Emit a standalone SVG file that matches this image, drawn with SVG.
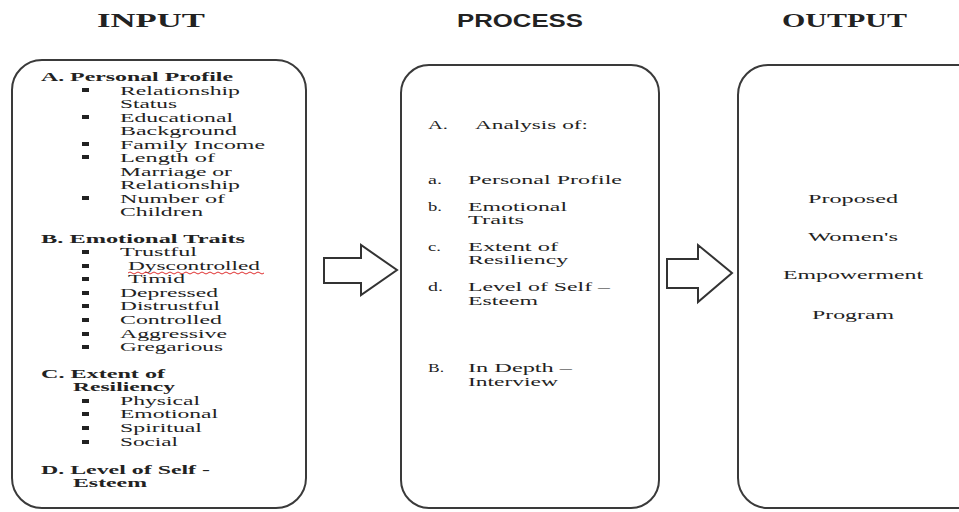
<svg xmlns="http://www.w3.org/2000/svg" width="959" height="512" viewBox="0 0 959 512">
<style>
.box{fill:#fff;stroke:#3a3a3a;stroke-width:2}
.arrow{fill:#fff;stroke:#333;stroke-width:2;stroke-linejoin:miter}
.t{font-family:"Liberation Serif","Times New Roman",serif;font-size:12.5px;fill:#222}
.b{font-weight:bold}
.title{font-family:"Liberation Serif","Times New Roman",serif;font-size:19px;font-weight:bold;fill:#222}
.titles{font-family:"Liberation Sans",Arial,sans-serif;font-size:18px;font-weight:bold;fill:#222}
.bul{fill:#222}
</style>
<rect width="959" height="512" fill="#fff"/>
<g id="titles">
<text class="title" x="97" y="27" textLength="108" lengthAdjust="spacingAndGlyphs">INPUT</text>
<text class="titles" x="457" y="27" textLength="126" lengthAdjust="spacingAndGlyphs">PROCESS</text>
<text class="title" x="782" y="27" textLength="125" lengthAdjust="spacingAndGlyphs">OUTPUT</text>
</g>
<g id="input">
<rect class="box" x="12" y="60" width="294" height="448" rx="30" ry="30"/>
<text class="t b" x="41" y="81" textLength="192" lengthAdjust="spacingAndGlyphs">A. Personal Profile</text>
<g class="bul">
<rect x="82" y="88" width="7" height="4"/>
<rect x="82" y="115" width="7" height="4"/>
<rect x="82" y="142" width="7" height="4"/>
<rect x="82" y="155" width="7" height="4"/>
<rect x="82" y="196" width="7" height="4"/>
<rect x="82" y="250" width="7" height="4"/>
<rect x="82" y="264" width="7" height="4"/>
<rect x="82" y="277" width="7" height="4"/>
<rect x="82" y="291" width="7" height="4"/>
<rect x="82" y="304" width="7" height="4"/>
<rect x="82" y="318" width="7" height="4"/>
<rect x="82" y="332" width="7" height="4"/>
<rect x="82" y="345" width="7" height="4"/>
<rect x="82" y="399" width="7" height="4"/>
<rect x="82" y="412" width="7" height="4"/>
<rect x="82" y="426" width="7" height="4"/>
<rect x="82" y="440" width="7" height="4"/>
</g>
<text class="t" x="120" y="95" textLength="120" lengthAdjust="spacingAndGlyphs">Relationship</text>
<text class="t" x="120" y="108" textLength="57" lengthAdjust="spacingAndGlyphs">Status</text>
<text class="t" x="120" y="122" textLength="113" lengthAdjust="spacingAndGlyphs">Educational</text>
<text class="t" x="120" y="135" textLength="117" lengthAdjust="spacingAndGlyphs">Background</text>
<text class="t" x="120" y="149" textLength="145" lengthAdjust="spacingAndGlyphs">Family Income</text>
<text class="t" x="120" y="162" textLength="95" lengthAdjust="spacingAndGlyphs">Length of</text>
<text class="t" x="120" y="176" textLength="112" lengthAdjust="spacingAndGlyphs">Marriage or</text>
<text class="t" x="120" y="189" textLength="120" lengthAdjust="spacingAndGlyphs">Relationship</text>
<text class="t" x="120" y="203" textLength="105" lengthAdjust="spacingAndGlyphs">Number of</text>
<text class="t" x="120" y="216" textLength="83" lengthAdjust="spacingAndGlyphs">Children</text>
<text class="t b" x="41" y="243" textLength="204" lengthAdjust="spacingAndGlyphs">B. Emotional Traits</text>
<text class="t" x="120" y="256" textLength="77" lengthAdjust="spacingAndGlyphs">Trustful</text>
<text class="t" x="128" y="270" textLength="132" lengthAdjust="spacingAndGlyphs">Dyscontrolled</text>
<path d="M128 273 q2 -2 4 0 t4 0 t4 0 t4 0 t4 0 t4 0 t4 0 t4 0 t4 0 t4 0 t4 0 t4 0 t4 0 t4 0 t4 0 t4 0 t4 0 t4 0 t4 0 t4 0 t4 0 t4 0 t4 0 t4 0 t4 0 t4 0 t4 0 t4 0 t4 0 t4 0 t4 0 t4 0 t4 0 t4 0" fill="none" stroke="#e03030" stroke-width="1"/>
<text class="t" x="128" y="283" textLength="57" lengthAdjust="spacingAndGlyphs">Timid</text>
<text class="t" x="120" y="297" textLength="98" lengthAdjust="spacingAndGlyphs">Depressed</text>
<text class="t" x="120" y="310" textLength="100" lengthAdjust="spacingAndGlyphs">Distrustful</text>
<text class="t" x="120" y="324" textLength="102" lengthAdjust="spacingAndGlyphs">Controlled</text>
<text class="t" x="120" y="338" textLength="107" lengthAdjust="spacingAndGlyphs">Aggressive</text>
<text class="t" x="120" y="351" textLength="103" lengthAdjust="spacingAndGlyphs">Gregarious</text>
<text class="t b" x="41" y="378" textLength="124" lengthAdjust="spacingAndGlyphs">C. Extent of</text>
<text class="t b" x="73" y="391" textLength="102" lengthAdjust="spacingAndGlyphs">Resiliency</text>
<text class="t" x="120" y="405" textLength="80" lengthAdjust="spacingAndGlyphs">Physical</text>
<text class="t" x="120" y="418" textLength="98" lengthAdjust="spacingAndGlyphs">Emotional</text>
<text class="t" x="120" y="432" textLength="82" lengthAdjust="spacingAndGlyphs">Spiritual</text>
<text class="t" x="120" y="446" textLength="58" lengthAdjust="spacingAndGlyphs">Social</text>
<text class="t b" x="41" y="474" textLength="169" lengthAdjust="spacingAndGlyphs">D. Level of Self -</text>
<text class="t b" x="73" y="487" textLength="74" lengthAdjust="spacingAndGlyphs">Esteem</text>
</g>
<g id="process">
<rect class="box" x="401" y="65" width="258" height="443" rx="28" ry="28"/>
<text class="t" x="428" y="129" textLength="20" lengthAdjust="spacingAndGlyphs">A.</text>
<text class="t" x="475" y="129" textLength="113" lengthAdjust="spacingAndGlyphs">Analysis of:</text>
<text class="t" x="428" y="184" textLength="14" lengthAdjust="spacingAndGlyphs">a.</text>
<text class="t" x="468" y="184" textLength="154" lengthAdjust="spacingAndGlyphs">Personal Profile</text>
<text class="t" x="428" y="211" textLength="14" lengthAdjust="spacingAndGlyphs">b.</text>
<text class="t" x="468" y="211" textLength="99" lengthAdjust="spacingAndGlyphs">Emotional</text>
<text class="t" x="468" y="224" textLength="56" lengthAdjust="spacingAndGlyphs">Traits</text>
<text class="t" x="428" y="251" textLength="13" lengthAdjust="spacingAndGlyphs">c.</text>
<text class="t" x="468" y="251" textLength="90" lengthAdjust="spacingAndGlyphs">Extent of</text>
<text class="t" x="468" y="264" textLength="100" lengthAdjust="spacingAndGlyphs">Resiliency</text>
<text class="t" x="428" y="291" textLength="15" lengthAdjust="spacingAndGlyphs">d.</text>
<text class="t" x="468" y="291" textLength="142" lengthAdjust="spacingAndGlyphs">Level of Self –</text>
<text class="t" x="468" y="305" textLength="70" lengthAdjust="spacingAndGlyphs">Esteem</text>
<text class="t" x="428" y="372" textLength="16" lengthAdjust="spacingAndGlyphs">B.</text>
<text class="t" x="468" y="372" textLength="104" lengthAdjust="spacingAndGlyphs">In Depth –</text>
<text class="t" x="468" y="386" textLength="90" lengthAdjust="spacingAndGlyphs">Interview</text>
</g>
<g id="output">
<rect class="box" x="738" y="65" width="260" height="443" rx="30" ry="30"/>
<text class="t" x="808" y="203" textLength="90" lengthAdjust="spacingAndGlyphs">Proposed</text>
<text class="t" x="808" y="241" textLength="90" lengthAdjust="spacingAndGlyphs">Women's</text>
<text class="t" x="783" y="279" textLength="140" lengthAdjust="spacingAndGlyphs">Empowerment</text>
<text class="t" x="812" y="319" textLength="82" lengthAdjust="spacingAndGlyphs">Program</text>
</g>
<g id="connectors">
<polygon class="arrow" points="324,258 361,258 361,245 397,270 361,295 361,283 324,283"/>
<polygon class="arrow" points="667,259 698,259 698,245 732,273 698,302 698,288 667,288"/>
</g>
</svg>
